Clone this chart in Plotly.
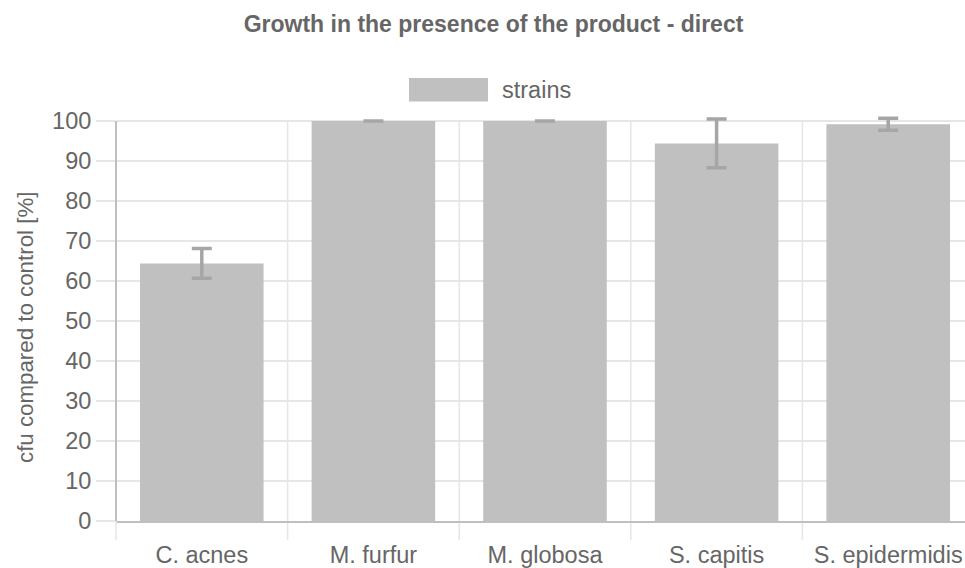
import plotly.graph_objects as go

categories = ["C. acnes", "M. furfur", "M. globosa", "S. capitis", "S. epidermidis"]
values = [64.4, 100.0, 100.0, 94.4, 99.2]
errors = [3.7, 0.0, 0.0, 6.1, 1.5]
y_ticks = list(range(0, 101, 10))

TXT = "#666666"
FONT = "Liberation Sans, Arial, Helvetica, sans-serif"
W, H = 965, 568
ML, MT, MB, MR = 116, 113, 47, 0
Y_TOP = 102                  # small headroom so error caps above 100 are not clipped
PLOT_H = H - MT - MB
PLOT_W = W - ML - MR

fig = go.Figure()
fig.add_trace(go.Bar(
    x=list(range(len(categories))), y=values, name="strains",
    marker=dict(color="#c0c0c0", line=dict(width=0)),
    error_y=dict(type="data", array=errors, visible=True,
                 color="#a6a6a6", thickness=3.5, width=10),
    cliponaxis=False, showlegend=False,
))

cat_px = 171.6
x_hi = -0.5 + PLOT_W / cat_px

fig.update_layout(
    width=W, height=H,
    margin=dict(l=ML, r=MR, t=MT, b=MB, pad=0, autoexpand=False),
    paper_bgcolor="white", plot_bgcolor="white",
    font=dict(family=FONT, size=23.5, color=TXT),
    bargap=0.28,
    title=dict(text="<b>Growth in the presence of the product - direct</b>",
               x=493.5 / W, xanchor="center", y=1 - 24 / H, yanchor="middle",
               font=dict(family=FONT, size=23, color=TXT)),
    xaxis=dict(
        type="linear", range=[-0.5, x_hi], automargin=False,
        tickmode="array", tickvals=list(range(len(categories))), ticktext=categories,
        showgrid=False, zeroline=False,
        showline=True, linecolor="#bfbfbf", linewidth=2,
        ticks="outside", ticklen=12, tickcolor="rgba(0,0,0,0)",
        tickfont=dict(size=23.5, color=TXT),
    ),
    yaxis=dict(
        range=[0, Y_TOP], tickmode="array", tickvals=y_ticks, automargin=False,
        showgrid=True, gridcolor="#e6e6e6", gridwidth=1.5,
        zeroline=False, showline=False,
        ticks="outside", ticklen=19, tickcolor="#e6e6e6", tickwidth=1.5,
        tickfont=dict(size=23.5, color=TXT),
    ),
)

y100 = 100 / Y_TOP
below = -19 / PLOT_H

# vertical category separators (Chart.js style gridlines between categories)
for b in [i + 0.5 for i in range(len(categories) - 1)]:
    fig.add_shape(type="line", xref="x", yref="paper", x0=b, x1=b,
                  y0=below, y1=y100, line=dict(color="#e6e6e6", width=1.5),
                  layer="below")
# left axis line and its tick below
fig.add_shape(type="line", xref="paper", yref="paper", x0=0, x1=0,
              y0=below, y1=0, line=dict(color="#e6e6e6", width=1.5))
fig.add_shape(type="line", xref="paper", yref="paper", x0=0, x1=0,
              y0=0, y1=y100, line=dict(color="#bfbfbf", width=2))

def px_x(px):
    return (px - ML) / PLOT_W

def px_y(py):
    return (H - MB - py) / PLOT_H

# y axis title
fig.add_annotation(text="cfu compared to control [%]", xref="paper", yref="paper",
                   x=px_x(25), y=px_y(328), xanchor="center", yanchor="middle",
                   textangle=-90, showarrow=False, font=dict(size=22.3, color=TXT))

# legend box and label (Chart.js style)
fig.add_shape(type="rect", xref="paper", yref="paper",
              x0=px_x(409), x1=px_x(488), y0=px_y(101.5), y1=px_y(78),
              fillcolor="#c0c0c0", line=dict(width=0))
fig.add_annotation(text="strains", xref="paper", yref="paper",
                   x=px_x(500), y=px_y(90), xanchor="left", yanchor="middle",
                   showarrow=False, font=dict(size=23.5, color=TXT))

fig.write_html(
    "out.html",
    config={"displayModeBar": False},
    post_script="document.body.style.margin='0';document.body.style.overflow='hidden';"
                "document.documentElement.style.overflow='hidden';",
)
